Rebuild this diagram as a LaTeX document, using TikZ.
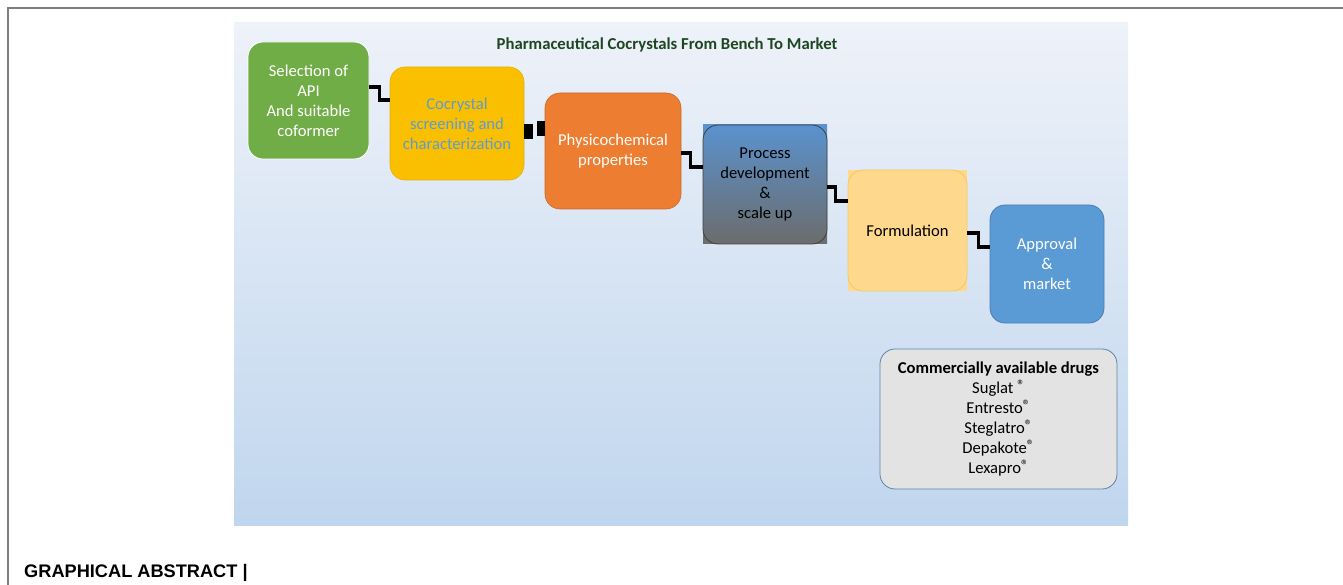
\documentclass[tikz,border=0pt]{standalone}
\usepackage{fontspec}
\setmainfont{Carlito}
\newfontfamily\headfont{Liberation Sans}
\definecolor{bgtop}{HTML}{EEF2F9}
\definecolor{bgbot}{HTML}{C0D6EE}
\definecolor{cgreen}{HTML}{70AD47}
\definecolor{cyellow}{HTML}{FAC000}
\definecolor{cyelbd}{HTML}{E3AE10}
\definecolor{corange}{HTML}{ED7D31}
\definecolor{cblue}{HTML}{5B9BD5}
\definecolor{cbluebd}{HTML}{4A7FB5}
\definecolor{cptop}{HTML}{5A92CE}
\definecolor{cpbot}{HTML}{6C6C6C}
\definecolor{cform}{HTML}{FED88C}
\definecolor{cformbd}{HTML}{F6C864}
\definecolor{cgray}{HTML}{E3E3E3}
\definecolor{cgraybd}{HTML}{5F82A8}
\definecolor{ctitle}{HTML}{1E4620}
\definecolor{cframe}{HTML}{7F7F7F}
\newcommand{\regmark}{\raisebox{3pt}{\fontsize{15}{15}\selectfont ®}}
\tikzset{
  stagebox/.style={rounded corners=15pt, align=center, inner sep=2pt,
    font=\fontsize{16.6}{20}\selectfont},
  conn/.style={line width=3.5pt, black},
  blockconn/.style={line width=15pt, black}
}
\begin{document}
\begin{tikzpicture}[x=1pt,y=-1pt]
\useasboundingbox (0,0) rectangle (1343,585);
% outer frame
\draw[cframe, line width=1.5pt] (1343,8) -- (8,8) -- (8,585);
% background panel
\shade[top color=bgtop, bottom color=bgbot] (234,23) rectangle (1128,525);
% title
\node[font=\bfseries\fontsize{16.7}{19}\selectfont, text=ctitle] (title) at (667,45) {Pharmaceutical Cocrystals From Bench To Market};
% stage boxes
\node[stagebox, fill=cgreen, draw=white, line width=0.8pt, text=white, minimum width=121pt, minimum height=117pt] (b1) at (308.5,100.5) {Selection of\\API\\And suitable\\coformer};
\node[stagebox, fill=cyellow, draw=cyelbd, line width=0.6pt, text=cblue, minimum width=134pt, minimum height=113pt] (b2) at (457,123.5) {Cocrystal\\screening and\\characterization};
\node[stagebox, fill=corange, draw=corange!85!black, line width=0.6pt, text=white, minimum width=136pt, minimum height=116pt] (b3) at (613,151) {Physicochemical\\properties};
\shade[top color=cptop, bottom color=cpbot] (703,125) rectangle (827,244);
\node[stagebox, top color=cptop, bottom color=cpbot, draw=black!75, line width=0.8pt, text=black, minimum width=124pt, minimum height=119pt] (b4) at (765,184.5) {Process\\development\\\&\\scale up};
\fill[cform] (848,170) rectangle (967,291);
\node[stagebox, fill=cform, draw=cformbd, line width=0.8pt, text=black, minimum width=119pt, minimum height=121pt] (b5) at (907.5,230.5) {Formulation};
\node[stagebox, fill=cblue, draw=cbluebd, line width=0.8pt, text=white, minimum width=114pt, minimum height=118pt] (b6) at (1047,264) {Approval\\\&\\market};
\node[stagebox, fill=cgray, draw=cgraybd, line width=0.8pt, text=black, minimum width=237pt, minimum height=140pt] (b7) at (998.5,419) {\textbf{Commercially available drugs}\\Suglat \regmark\\Entresto\regmark\\Steglatro\regmark\\Depakote\regmark\\Lexapro\regmark};
% connectors
\draw[conn] ([yshift=13.5pt]b1.east) -- ++(10,0) |- ([yshift=23.5pt]b2.west);
\draw[blockconn] ([yshift=-8.5pt]b2.east) -- ++(9,0);
\draw[blockconn] ([yshift=22.5pt]b3.west) -- ++(-8,0);
\draw[conn] ([yshift=-2pt]b3.east) -- ++(9,0) |- ([yshift=17.5pt]b4.west);
\draw[conn] ([yshift=-2.5pt]b4.east) -- ++(8,0) |- ([yshift=29.5pt]b5.west);
\draw[conn] ([yshift=-2.5pt]b5.east) -- ++(11,0) |- ([yshift=17pt]b6.west);
% caption
\node[anchor=base west, inner sep=0pt, font=\headfont\bfseries\fontsize{18.2}{20}\selectfont] (caption) at (24,577) {GRAPHICAL ABSTRACT |};
\end{tikzpicture}
\end{document}
